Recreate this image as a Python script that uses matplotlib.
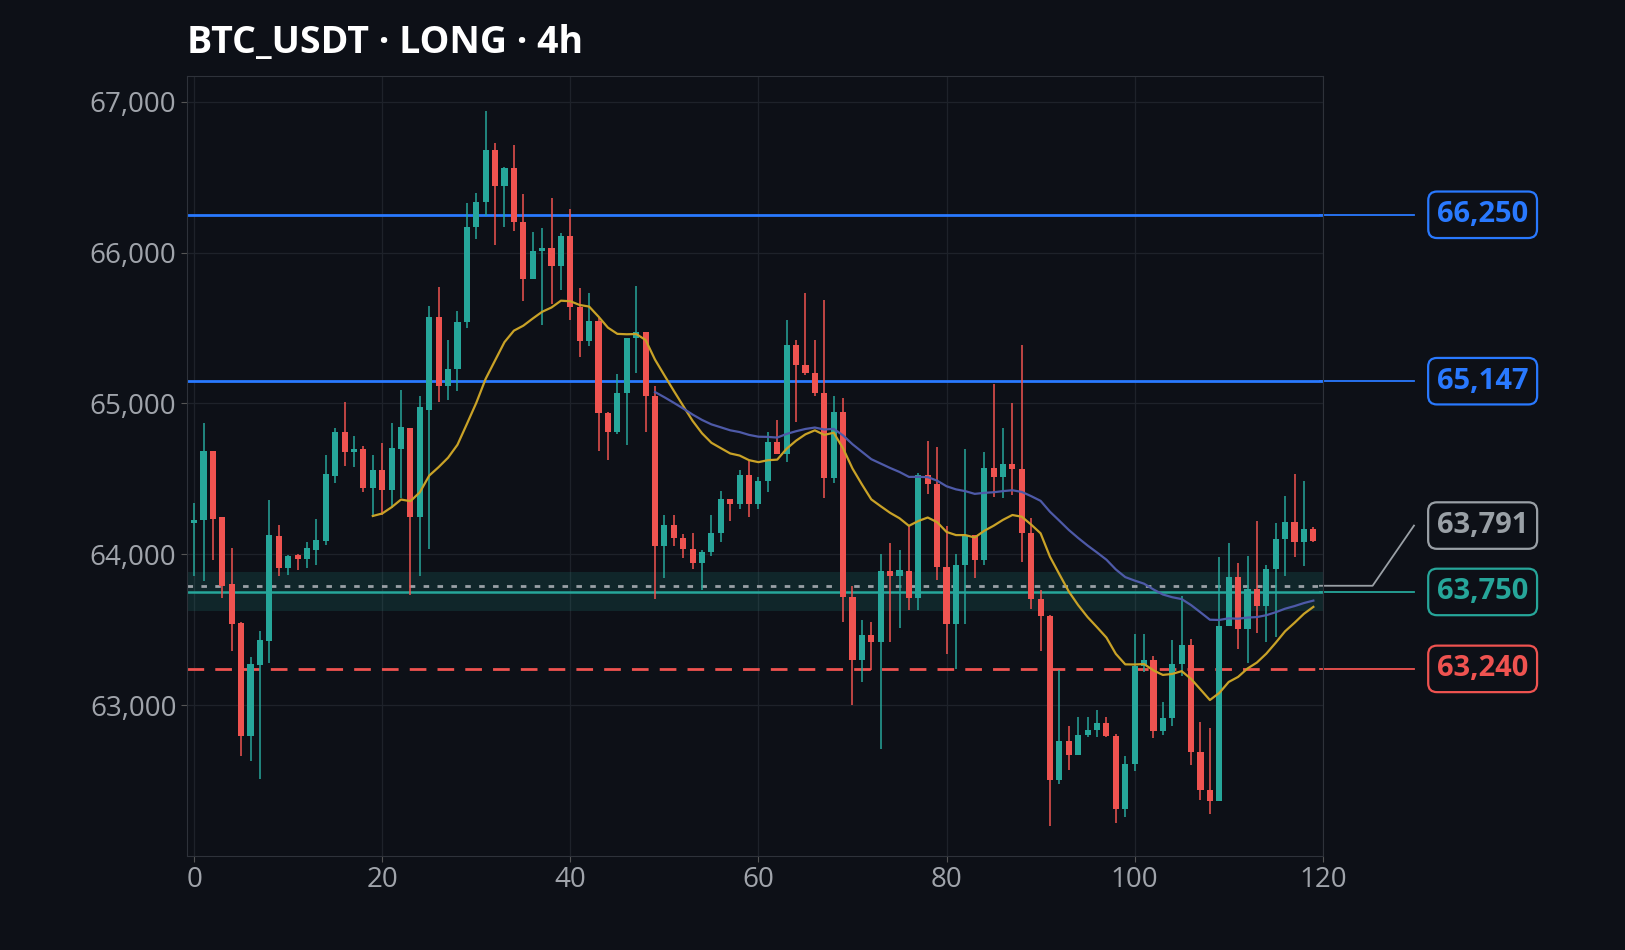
import matplotlib
matplotlib.use("Agg")
import matplotlib.pyplot as plt
import numpy as np
import pandas as pd

opens = [64210,64225,64686,64250,63800,63547,62798,63266,63425,64124,63908,63995,63970,64026,64085,64517,64810,64676,64695,64440,
         64560,64426,64700,64840,64248,64958,65571,65112,65230,65541,66171,66334,66680,66443,66558,66203,65827,66011,66032,65908,
         66109,65641,65416,65544,64937,64811,65070,65432,65476,65047,64054,64196,64107,64033,63944,64018,64140,64365,64333,64523,
         64333,64485,64745,64665,65387,65257,65198,65070,64503,64943,63715,63300,63465,63418,63888,63858,63888,63712,64523,64464,
         63917,63535,63929,64125,63959,64574,64510,64600,64565,64140,63700,63590,62505,62765,62667,62800,62835,62880,62795,62313,
         62610,63260,63300,62830,62915,63270,63400,62686,62440,62366,63525,63846,63506,63770,63660,63900,64100,64213,64080,64170]
closes = [64230,64686,64233,63790,63538,62798,63270,63434,64130,63908,63990,63970,64040,64097,64530,64810,64677,64695,64440,64560,
          64426,64707,64846,64248,64973,65571,65112,65230,65541,66171,66334,66680,66443,66558,66203,65827,66011,66032,65908,66109,
          65641,65416,65544,64937,64811,65070,65432,65476,65047,64054,64196,64107,64033,63944,64018,64140,64365,64333,64523,64333,
          64485,64745,64665,65387,65257,65198,65070,64503,64943,63715,63300,63465,63418,63888,63858,63897,63712,64523,64464,63917,
          63535,63929,64125,63959,64574,64510,64600,64565,64140,63700,63590,62505,62765,62667,62800,62835,62880,62795,62313,62610,
          63260,63300,62830,62915,63270,63400,62686,62440,62366,63525,63846,63506,63770,63660,63900,64100,64213,64080,64170,64086]
highs = [64340,64870,64686,64250,64040,63550,63320,63488,64358,64195,63997,64000,64080,64233,64655,64840,65009,64787,64720,64655,
         64736,64870,65090,64840,65047,65645,65772,65417,65610,66329,66392,66935,66728,66565,66710,66390,66133,66163,66358,66130,
         66290,65766,65734,65569,64940,65195,65432,65775,65476,65115,64258,64258,64135,64143,64030,64260,64420,64365,64560,64618,
         64510,64810,64892,65550,65419,65730,65420,65683,65050,65035,63790,63565,63550,64000,64075,64030,64184,64540,64750,64710,
         64190,64000,64700,64130,64680,65130,64840,65000,65390,64240,63760,63600,63230,62862,62920,62920,62965,62920,62810,62660,
         63470,63470,63325,63020,63430,63720,63440,62890,62850,63980,64075,63940,63990,64220,63930,64210,64385,64533,64486,64180]
lows = [63855,63820,63960,63707,63360,62665,62630,62510,63277,63855,63863,63893,63910,63928,64062,64470,64588,64580,64410,64250,
        64263,64307,64370,63730,63855,64035,65009,65023,65081,65498,66092,66244,66053,66170,66142,65678,65827,65520,65660,65754,
        65550,65308,65383,64682,64625,64795,64722,65200,64810,63700,63840,64055,63975,63900,63760,63985,64080,64220,64300,64250,
        64300,64415,64665,64610,64878,65190,65050,64375,64470,63550,63000,63150,63235,62710,63420,63510,63630,63630,64400,63830,
        63340,63240,63535,63840,63930,64378,64370,64390,63950,63640,63360,62200,62480,62570,62670,62790,62790,62790,62220,62260,
        62560,63220,62780,62800,62860,63190,62600,62370,62280,62420,63540,63370,63280,63480,63420,63450,63855,63980,63925,64080]

levels = {"tp2": 66250, "tp1": 65147, "last": 63791, "entry": 63750, "stop": 63240}
zone = (63621, 63884)

BG = "#0d1017"
GREEN = "#26a69a"
RED = "#ef5350"
BLUE = "#2979ff"
GRAY = "#9aa0a6"

plt.rcParams['font.family'] = ['Open Sans', 'DejaVu Sans']
fig = plt.figure(figsize=(16.25, 9.5), dpi=100, facecolor=BG)
ax = fig.add_axes([0.115, 0.099, 0.699, 0.821], facecolor=BG)

x = np.arange(len(closes))
o = np.array(opens); c = np.array(closes); h = np.array(highs); l = np.array(lows)
cols = np.where(c >= o, GREEN, RED)
ax.vlines(x, l, h, colors=cols, linewidth=1.1, zorder=3)
ax.bar(x, np.maximum(np.abs(c - o), 8), bottom=np.minimum(o, c), width=0.65, color=cols, zorder=4, linewidth=0)

s = pd.Series(closes)
ema20 = s.ewm(span=20, adjust=False).mean(); ema20[:19] = np.nan
ema50 = s.ewm(span=50, adjust=False).mean(); ema50[:49] = np.nan
ax.plot(x, ema20, color="#c9a227", lw=1.6, zorder=5)
ax.plot(x, ema50, color="#4e5aa8", lw=1.6, zorder=5)

ax.axhspan(zone[0], zone[1], color=GREEN, alpha=0.15, zorder=1, lw=0)
ax.axhline(levels["tp2"], color=BLUE, lw=2, zorder=2)
ax.axhline(levels["tp1"], color=BLUE, lw=2, zorder=2)
ax.axhline(levels["entry"], color=GREEN, lw=1.8, zorder=2)
ax.axhline(levels["last"], color=GRAY, lw=2, ls=(0, (2, 3)), zorder=2)
ax.axhline(levels["stop"], color=RED, lw=2, ls=(0, (6, 4)), zorder=2)

ax.set_xlim(-0.77, 119.7)
ax.set_ylim(62000, 67170)
ax.set_xticks([0, 20, 40, 60, 80, 100, 120])
ax.set_yticks([63000, 64000, 65000, 66000, 67000])
ax.yaxis.set_major_formatter(matplotlib.ticker.FuncFormatter(lambda v, p: f"{int(v):,}"))
ax.tick_params(colors="#a0a4ab", labelsize=20, length=4, color="#555")
for sp in ax.spines.values():
    sp.set_color("#2e323a")
ax.grid(True, color="#1e222a", lw=0.9)
ax.set_axisbelow(True)

XR = 119.7
def label(y_line, y_box, text, color, lw=1.3):
    if y_box != y_line:
        xs, ys = [XR, 125.3, 129.7], [y_line, y_line, y_box]
    else:
        xs, ys = [XR, 129.7], [y_line, y_line]
    ax.plot(xs, ys, color=color, lw=lw, clip_on=False, zorder=2)
    ax.text(137.0, y_box, text, color=color, fontsize=21, fontweight="bold", ha="center", va="center",
            clip_on=False, bbox=dict(boxstyle="round,pad=0.3,rounding_size=0.3", fc=BG, ec=color, lw=1.6))

label(levels["tp2"], levels["tp2"], "66,250", BLUE)
label(levels["tp1"], levels["tp1"], "65,147", BLUE)
label(levels["last"], 64190, "63,791", GRAY)
label(levels["entry"], 63750, "63,750", GREEN)
label(levels["stop"], 63240, "63,240", RED)

fig.text(0.115, 0.955, "BTC_USDT · LONG · 4h", color="white", fontsize=27, fontweight="bold", ha="left", va="center")
fig.savefig("out.png", dpi=100, facecolor=BG)
